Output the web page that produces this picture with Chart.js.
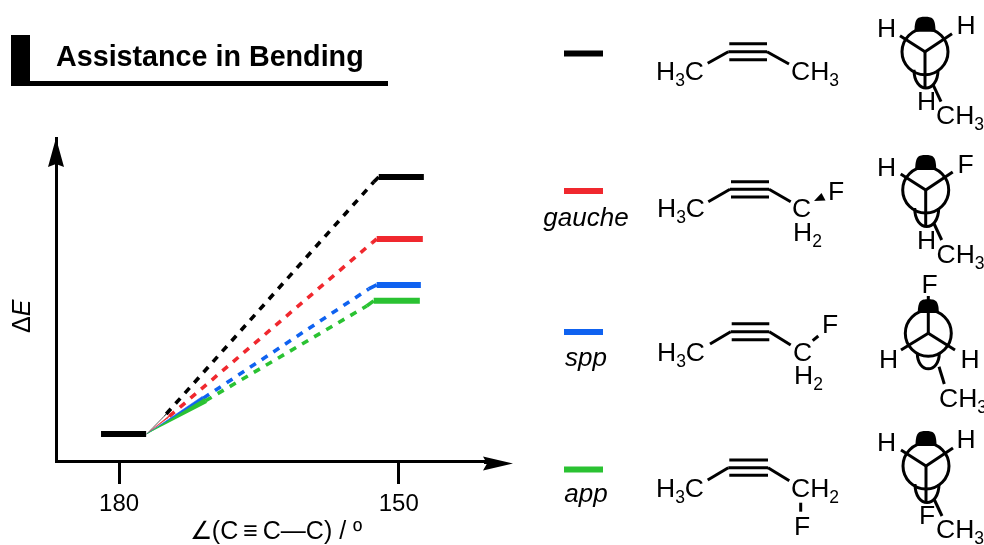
<!DOCTYPE html>
<html><head><meta charset="utf-8">
<style>html,body{margin:0;padding:0;background:#fff;overflow:hidden}canvas{display:block}</style>
<script src="https://cdn.jsdelivr.net/npm/chart.js@4"></script>
</head><body><canvas id="c" width="984" height="545"></canvas>
<script>
// ---------- data ----------
const titleText = 'Assistance in Bending';
const xTitle = '∠(C\u2009≡\u2009C—C) / º';
const tickValues = [180, 150];
const seriesNames = ['', 'gauche', 'spp', 'app'];
const seriesColors = ['#000000', '#f0282e', '#0f62f0', '#2ac232'];
const baseAngles = [181.94, 177.1];
const baseEnergy = [0, 0];
const apexAngle = 177.04;
const levelEnergy = [9.52, 7.22, 5.52, 4.93];
const barStartAngle = [152.15, 152.37, 152.37, 152.69];
const barEndAngle = [147.31, 147.42, 147.63, 147.74];
const rampEndAngle = [152.69, 152.9, 153.23, 153.44];
const rampEndEnergy = [9.33, 7.07, 5.37, 4.74];
const wedgeAngleA = [174.73, 174.41, 171.08, 170.86];
const wedgeEnergyA = [0.81, 0.74, 1.39, 1.31];
const wedgeAngleB = [175.16, 174.84, 170.86, 170.59];
const wedgeEnergyB = [0.67, 0.56, 1.26, 1.15];

// ---------- datasets ----------
const datasets = [];
seriesColors.forEach((col, i) => {
  const ord = 10 - i * 2;
  datasets.push({ // tapered start of the ramp
    data: [{x: apexAngle, y: baseEnergy[1]}, {x: wedgeAngleA[i], y: wedgeEnergyA[i]}, {x: wedgeAngleB[i], y: wedgeEnergyB[i]}],
    showLine: true, borderColor: col, backgroundColor: col, borderWidth: 0.6, fill: 'shape', pointRadius: 0, order: ord
  });
  const midA = (wedgeAngleA[i] + wedgeAngleB[i]) / 2, midE = (wedgeEnergyA[i] + wedgeEnergyB[i]) / 2;
  datasets.push({ // dashed ramp and its solid shoulder
    data: [{x: midA, y: midE}, {x: rampEndAngle[i], y: rampEndEnergy[i]}, {x: barStartAngle[i], y: levelEnergy[i]}],
    showLine: true, borderColor: col, borderWidth: 3.6, pointRadius: 0, order: ord - 1, borderCapStyle: 'butt',
    segment: {borderDash: c => c.p0DataIndex === 0 ? [7, 7] : undefined}
  });
  datasets.push({ // bent-state level
    data: [{x: barStartAngle[i], y: levelEnergy[i]}, {x: barEndAngle[i], y: levelEnergy[i]}],
    showLine: true, borderColor: col, borderWidth: 6, pointRadius: 0, order: ord - 1, borderCapStyle: 'butt'
  });
});
datasets.push({ // linear-state level
  data: [{x: baseAngles[0], y: baseEnergy[0]}, {x: baseAngles[1], y: baseEnergy[1]}],
  showLine: true, borderColor: '#000', borderWidth: 6, pointRadius: 0, order: 0, borderCapStyle: 'butt'
});

// ---------- drawing helpers for the annotations ----------
const FF = '"Liberation Sans", Arial, sans-serif';
const LW = 3;
function chem(ctx, x, y, s) {
  ctx.textAlign = 'left'; ctx.textBaseline = 'alphabetic'; ctx.fillStyle = '#000';
  for (const ch of s) {
    const sub = /[0-9]/.test(ch);
    ctx.font = (sub ? 17.5 : 26.5) + 'px ' + FF;
    ctx.fillText(ch, x, sub ? y + 6 : y);
    x += ctx.measureText(ch).width;
  }
}
function seg(ctx, x1, y1, x2, y2, w) {
  ctx.beginPath(); ctx.moveTo(x1, y1); ctx.lineTo(x2, y2);
  ctx.lineWidth = w || LW; ctx.strokeStyle = '#000'; ctx.lineCap = 'butt'; ctx.stroke();
}
function alkyne(ctx, x1, y, x2, lx, ly, rx, ry, gap) {
  seg(ctx, lx, ly, x1, y); seg(ctx, x2, y, rx, ry);
  seg(ctx, x1, y, x2, y);
  seg(ctx, x1 + 1, y - gap, x2, y - gap); seg(ctx, x1 + 1, y + gap, x2, y + gap);
}
function dome(ctx, cx, top, base) {
  ctx.beginPath(); ctx.moveTo(cx - 10.5, base);
  ctx.bezierCurveTo(cx - 10.5, top + 1, cx - 7, top, cx, top);
  ctx.bezierCurveTo(cx + 7, top, cx + 10.5, top + 1, cx + 10.5, base);
  ctx.closePath(); ctx.fillStyle = '#000'; ctx.fill();
}
function lobe(ctx, cx, y0, yc, hw) {
  ctx.beginPath(); ctx.moveTo(cx - hw, y0);
  ctx.bezierCurveTo(cx - hw, yc, cx + hw, yc, cx + hw, y0);
  ctx.lineWidth = LW; ctx.strokeStyle = '#000'; ctx.stroke();
}
function circle(ctx, cx, cy) {
  ctx.beginPath(); ctx.arc(cx, cy, 23, 0, Math.PI * 2);
  ctx.lineWidth = LW; ctx.strokeStyle = '#000'; ctx.stroke();
}
function newmanUp(ctx, cx, cy) {
  dome(ctx, cx, cy - 35, cy - 20);
  circle(ctx, cx, cy);
  lobe(ctx, cx + 1, cy + 18, cy + 42.5, 12);
  seg(ctx, cx, cy, cx, cy + 37);
  seg(ctx, cx, cy, cx - 25, cy - 16);
  seg(ctx, cx, cy, cx + 27, cy - 18);
  seg(ctx, cx + 8, cy + 33, cx + 16, cy + 50);
}

const art = {
  id: 'art',
  afterDraw(chart) {
    const ctx = chart.ctx, a = chart.chartArea;
    ctx.save();
    // header frame
    ctx.fillStyle = '#000';
    ctx.fillRect(11, 35, 19, 51);
    ctx.fillRect(11, 81, 377, 5);
    // axis arrowheads
    ctx.beginPath(); ctx.moveTo(a.left, a.top); ctx.lineTo(a.left + 8, a.top + 29);
    ctx.lineTo(a.left, a.top + 26); ctx.lineTo(a.left - 8, a.top + 29); ctx.closePath(); ctx.fill();
    ctx.beginPath(); ctx.moveTo(513, a.bottom + 2.5); ctx.lineTo(483, a.bottom - 4.5);
    ctx.lineTo(487, a.bottom + 2.5); ctx.lineTo(483, a.bottom + 9.5); ctx.closePath(); ctx.fill();
    ctx.fillRect(484, a.bottom - 0.5, 6, 3.5);
    // y axis label
    ctx.save(); ctx.translate(30, 333); ctx.rotate(-Math.PI / 2);
    ctx.textAlign = 'left'; ctx.textBaseline = 'alphabetic';
    ctx.font = '25px ' + FF; ctx.fillText('Δ', 0, 0);
    const dw = ctx.measureText('Δ').width;
    ctx.font = 'italic 25px ' + FF; ctx.fillText('E', dw, 0);
    ctx.restore();
    // key swatches and names
    const swatchY = [53.5, 191, 332, 469.5], nameY = [0, 226, 366, 502];
    seriesColors.forEach((col, i) => {
      ctx.fillStyle = col; ctx.fillRect(564, swatchY[i] - 3, 39, 6);
      if (seriesNames[i]) {
        ctx.fillStyle = '#000'; ctx.font = 'italic 26px ' + FF;
        ctx.textAlign = 'center'; ctx.textBaseline = 'alphabetic';
        ctx.fillText(seriesNames[i], 586, nameY[i]);
      }
    });
    // skeletal structures
    alkyne(ctx, 728.3, 51.7, 767, 707.7, 63.3, 789, 64, 8);
    chem(ctx, 656, 80, 'H3C'); chem(ctx, 791, 80, 'CH3');

    alkyne(ctx, 730, 189.3, 769, 708.3, 201.7, 790.7, 201.7, 7.6);
    chem(ctx, 657, 217, 'H3C'); chem(ctx, 792, 217, 'C'); chem(ctx, 793, 241, 'H2'); chem(ctx, 828, 199.5, 'F');
    ctx.fillStyle = '#000'; ctx.beginPath(); ctx.moveTo(814, 201); ctx.lineTo(821.5, 193); ctx.lineTo(825.5, 200.5); ctx.closePath(); ctx.fill();

    alkyne(ctx, 730.7, 331.7, 769.3, 710, 344, 790.7, 345, 8);
    chem(ctx, 657, 360.7, 'H3C'); chem(ctx, 793, 360.7, 'C'); chem(ctx, 794, 383.5, 'H2'); chem(ctx, 822, 333, 'F');
    seg(ctx, 812.7, 340.7, 818.3, 336);

    alkyne(ctx, 728.3, 467.7, 768, 707.7, 480, 789.3, 480.7, 7.6);
    chem(ctx, 656, 497, 'H3C'); chem(ctx, 791, 497, 'CH2'); chem(ctx, 794, 535, 'F');
    seg(ctx, 800.7, 502.7, 800.7, 511.7);

    // Newman projections
    newmanUp(ctx, 925, 51.7);
    chem(ctx, 877, 37, 'H'); chem(ctx, 956.5, 34, 'H'); chem(ctx, 917, 110, 'H'); chem(ctx, 936, 123.5, 'CH3');

    newmanUp(ctx, 925.7, 190);
    chem(ctx, 877, 176, 'H'); chem(ctx, 957.5, 172.7, 'F'); chem(ctx, 917, 249.3, 'H'); chem(ctx, 936.5, 262.7, 'CH3');

    newmanUp(ctx, 926, 466);
    chem(ctx, 877, 451, 'H'); chem(ctx, 956.5, 448.3, 'H'); chem(ctx, 919, 524, 'F'); chem(ctx, 936, 537.5, 'CH3');

    dome(ctx, 928.3, 299.3, 313);
    circle(ctx, 928.3, 333.3);
    lobe(ctx, 928.3, 353, 374, 11);
    seg(ctx, 928.3, 333.3, 928.3, 296);
    seg(ctx, 928.3, 333.3, 901, 350);
    seg(ctx, 928.3, 333.3, 955, 350);
    seg(ctx, 939, 366.7, 944.3, 384);
    chem(ctx, 921.5, 293.3, 'F'); chem(ctx, 879, 368.3, 'H'); chem(ctx, 960.5, 368.3, 'H'); chem(ctx, 939, 406.7, 'CH3');
    ctx.restore();
  }
};

// ---------- chart ----------
new Chart(document.getElementById('c'), {
  type: 'scatter',
  data: {datasets},
  plugins: [art],
  options: {
    responsive: false, animation: false, events: [],
    layout: {padding: {left: 56, right: 488, top: 0, bottom: 0}},
    plugins: {
      legend: {display: false}, tooltip: {enabled: false},
      title: {display: true, text: titleText, align: 'start', color: '#000',
        font: {family: FF, size: 28.7, weight: 'bold'}, padding: {top: 41, bottom: 62.56}}
    },
    scales: {
      x: {
        type: 'linear', reverse: true, min: 139.57, max: 186.77,
        afterBuildTicks: s => { s.ticks = tickValues.map(v => ({value: v})); },
        afterFit: s => { s.height = 84; },
        grid: {drawOnChartArea: false, drawTicks: true, tickLength: 23, tickWidth: 3, tickColor: '#000'},
        border: {display: true, color: '#000', width: 3},
        ticks: {color: '#000', font: {family: FF, size: 24}, padding: 6, autoSkip: false, maxRotation: 0, callback: v => String(v)},
        title: {display: true, text: xTitle, color: '#000', font: {family: FF, size: 25}, padding: {top: 0, bottom: -2.5}}
      },
      y: {
        type: 'linear', min: -1, max: 10.96,
        afterFit: s => { s.width = 0; },
        grid: {display: false},
        border: {display: true, color: '#000', width: 3},
        ticks: {display: false}
      }
    }
  }
});
</script></body></html>
